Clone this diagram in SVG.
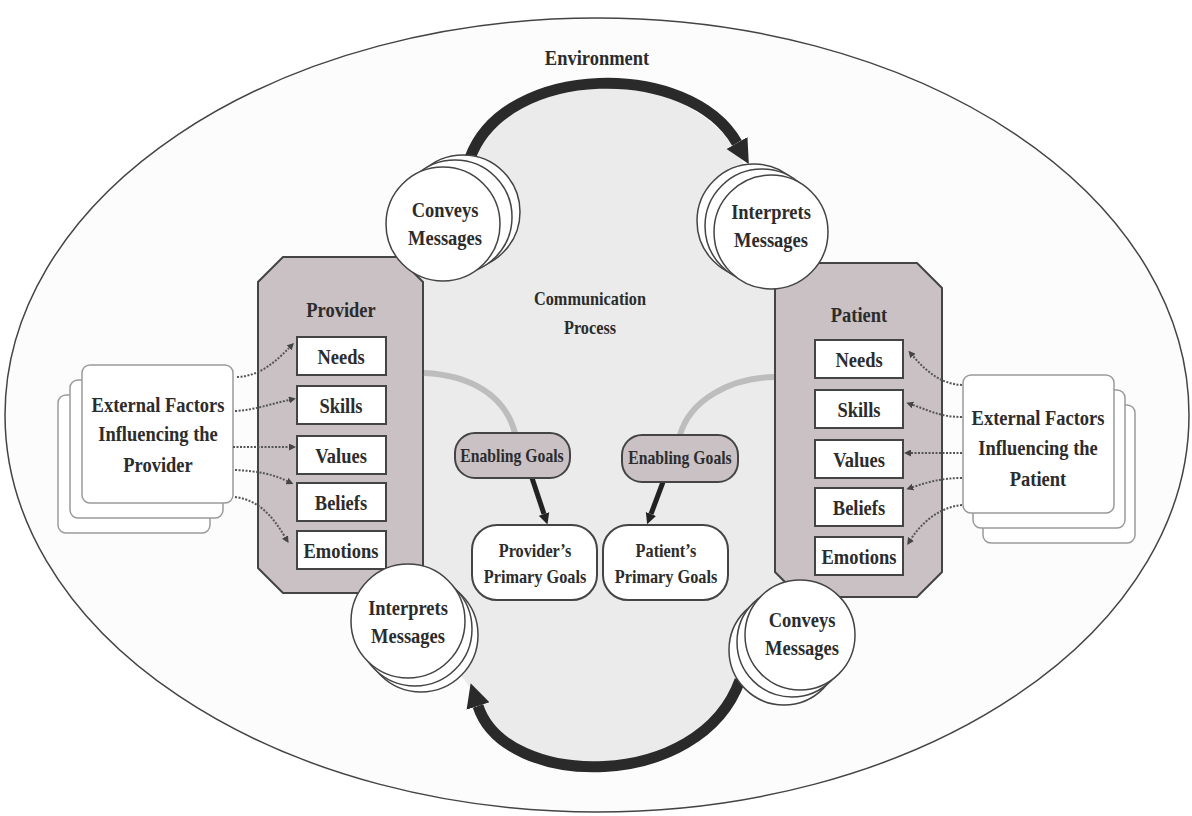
<svg xmlns="http://www.w3.org/2000/svg" width="1192" height="816" viewBox="0 0 1192 816">
<style>
.t{font-family:"Liberation Serif","Times New Roman",serif;font-weight:bold;fill:#2c2c2c;text-anchor:middle}
.big{font-size:21px}
.mid{font-size:18.5px}
.cir{fill:#fff;stroke:#444;stroke-width:1.5}
.oct{fill:#c9c1c3;stroke:#444;stroke-width:2}
.box{fill:#fff;stroke:#444;stroke-width:2}
.card{fill:#fff;stroke:#9a9a9a;stroke-width:1.5}
.dot{fill:none;stroke:#555;stroke-width:2;stroke-dasharray:2 1.5;marker-end:url(#sm)}
.arc{fill:none;stroke:#2a2a2a;stroke-width:11;marker-end:url(#big)}
.ga{fill:none;stroke:#222;stroke-width:5;marker-end:url(#med)}
.gc{fill:none;stroke:#bdbdbd;stroke-width:6}
</style>
<defs>
<marker id="big" viewBox="0 0 10 10" refX="0" refY="5" markerWidth="24" markerHeight="26" markerUnits="userSpaceOnUse" orient="auto"><path d="M0,0 L10,5 L0,10 z" fill="#2a2a2a"/></marker>
<marker id="med" viewBox="0 0 10 10" refX="0" refY="5" markerWidth="11" markerHeight="12" markerUnits="userSpaceOnUse" orient="auto"><path d="M0,0 L10,5 L0,10 z" fill="#222"/></marker>
<marker id="sm" viewBox="0 0 10 10" refX="0" refY="5" markerWidth="7" markerHeight="7" markerUnits="userSpaceOnUse" orient="auto"><path d="M0,0 L10,5 L0,10 z" fill="#444"/></marker>
</defs>
<rect width="1192" height="816" fill="#fff"/>
<g id="environment">
<ellipse cx="597" cy="415" rx="592" ry="397" fill="#fcfcfc" stroke="#444" stroke-width="1.5"/>
<text class="t big" transform="translate(597,65) scale(.88,1)">Environment</text>
</g>
<g id="process-area">
<path d="M470,158 C505,62 690,60 742,160 L790,300 L790,600 L740,680 C700,792 505,790 470,688 L410,600 L410,300 Z" fill="#ebebeb"/>
<text class="t mid" transform="translate(590,305) scale(.88,1)">Communication</text>
<text class="t mid" transform="translate(590,334) scale(.88,1)">Process</text>
</g>
<g id="ext-provider">
<rect class="card" x="58" y="395" width="152" height="138" rx="8"/>
<rect class="card" x="70" y="380" width="153" height="138" rx="8"/>
<rect class="card" x="82" y="365" width="151" height="138" rx="8"/>
<text class="t big" transform="translate(158,412) scale(.88,1)">External Factors</text>
<text class="t big" transform="translate(158,441) scale(.88,1)">Influencing the</text>
<text class="t big" transform="translate(158,472) scale(.88,1)">Provider</text>
</g>
<g id="ext-patient">
<rect class="card" x="983" y="405" width="152" height="138" rx="8"/>
<rect class="card" x="973" y="390" width="152" height="138" rx="8"/>
<rect class="card" x="963" y="375" width="151" height="138" rx="8"/>
<text class="t big" transform="translate(1038,425) scale(.88,1)">External Factors</text>
<text class="t big" transform="translate(1038,455) scale(.88,1)">Influencing the</text>
<text class="t big" transform="translate(1038,486) scale(.88,1)">Patient</text>
</g>
<g id="provider">
<polygon class="oct" points="283,257 398,257 423,282 423,568 398,593 283,593 258,568 258,282"/>
<text class="t big" transform="translate(341,317) scale(.88,1)">Provider</text>
<rect class="box" x="297" y="337" width="89" height="38"/>
<text class="t big" transform="translate(341,364) scale(.88,1)">Needs</text>
<rect class="box" x="297" y="386" width="89" height="38"/>
<text class="t big" transform="translate(341,413) scale(.88,1)">Skills</text>
<rect class="box" x="297" y="436" width="89" height="38"/>
<text class="t big" transform="translate(341,463) scale(.88,1)">Values</text>
<rect class="box" x="297" y="483" width="89" height="38"/>
<text class="t big" transform="translate(341,510) scale(.88,1)">Beliefs</text>
<rect class="box" x="297" y="531" width="89" height="38"/>
<text class="t big" transform="translate(341,558) scale(.88,1)">Emotions</text>
</g>
<g id="patient">
<polygon class="oct" points="800,263 917,263 942,288 942,572 917,597 800,597 775,572 775,288"/>
<text class="t big" transform="translate(859,322) scale(.88,1)">Patient</text>
<rect class="box" x="815" y="340" width="88" height="38"/>
<text class="t big" transform="translate(859,367) scale(.88,1)">Needs</text>
<rect class="box" x="815" y="390" width="88" height="38"/>
<text class="t big" transform="translate(859,417) scale(.88,1)">Skills</text>
<rect class="box" x="815" y="440" width="88" height="38"/>
<text class="t big" transform="translate(859,467) scale(.88,1)">Values</text>
<rect class="box" x="815" y="488" width="88" height="38"/>
<text class="t big" transform="translate(859,515) scale(.88,1)">Beliefs</text>
<rect class="box" x="815" y="537" width="88" height="38"/>
<text class="t big" transform="translate(859,564) scale(.88,1)">Emotions</text>
</g>
<g id="connectors">
<path class="arc" d="M470,158 C505,62 690,60 737,143"/>
<path class="arc" d="M740,680 C700,792 505,790 478,706"/>
<path class="gc" d="M424,373 C470,375 505,395 515,433"/>
<path class="gc" d="M774,377 C730,378 690,400 680,435"/>
<path class="ga" d="M532,478 L544,514"/>
<path class="ga" d="M663,482 L651,514"/>
<path class="dot" d="M237,377 C260,376 275,362 289,348"/>
<path class="dot" d="M235,411 C255,410 270,404 289,400"/>
<path class="dot" d="M233,447 L289,447"/>
<path class="dot" d="M235,470 C258,471 272,474 287,481"/>
<path class="dot" d="M235,497 C258,500 272,515 285,537"/>
<path class="dot" d="M962,385 C940,384 925,370 913,356"/>
<path class="dot" d="M962,417 C940,417 928,410 913,405"/>
<path class="dot" d="M962,453 L911,453"/>
<path class="dot" d="M962,478 C942,478 928,482 913,487"/>
<path class="dot" d="M962,505 C940,507 922,522 911,539"/>
</g>
<g id="enabling-provider">
<rect x="455" y="433" width="115" height="45" rx="20" fill="#c9c1c3" stroke="#444" stroke-width="2"/>
<text class="t mid" transform="translate(512,462) scale(.85,1)">Enabling Goals</text>
</g>
<g id="enabling-patient">
<rect x="622" y="435" width="116" height="47" rx="20" fill="#c9c1c3" stroke="#444" stroke-width="2"/>
<text class="t mid" transform="translate(680,464) scale(.85,1)">Enabling Goals</text>
</g>
<g id="provider-goals">
<rect class="box" x="472" y="525" width="125" height="75" rx="25"/>
<text class="t mid" transform="translate(535,557) scale(.88,1)">Provider’s</text>
<text class="t mid" transform="translate(535,583) scale(.88,1)">Primary Goals</text>
</g>
<g id="patient-goals">
<rect class="box" x="603" y="525" width="125" height="75" rx="25"/>
<text class="t mid" transform="translate(666,557) scale(.88,1)">Patient’s</text>
<text class="t mid" transform="translate(666,583) scale(.88,1)">Primary Goals</text>
</g>
<g id="provider-conveys">
<circle class="cir" cx="463" cy="212" r="57"/>
<circle class="cir" cx="455" cy="217" r="57"/>
<circle class="cir" cx="443" cy="224" r="57"/>
<text class="t big" transform="translate(445,217) scale(.88,1)">Conveys</text>
<text class="t big" transform="translate(445,245) scale(.88,1)">Messages</text>
</g>
<g id="patient-interprets">
<circle class="cir" cx="754" cy="221" r="57"/>
<circle class="cir" cx="762" cy="226" r="57"/>
<circle class="cir" cx="771" cy="232" r="57"/>
<text class="t big" transform="translate(771,219) scale(.88,1)">Interprets</text>
<text class="t big" transform="translate(771,247) scale(.88,1)">Messages</text>
</g>
<g id="provider-interprets">
<circle class="cir" cx="421" cy="635" r="57"/>
<circle class="cir" cx="415" cy="629" r="57"/>
<circle class="cir" cx="408" cy="621" r="57"/>
<text class="t big" transform="translate(408,615) scale(.88,1)">Interprets</text>
<text class="t big" transform="translate(408,643) scale(.88,1)">Messages</text>
</g>
<g id="patient-conveys">
<circle class="cir" cx="784" cy="650" r="55"/>
<circle class="cir" cx="792" cy="642" r="55"/>
<circle class="cir" cx="800" cy="635" r="55"/>
<text class="t big" transform="translate(802,627) scale(.88,1)">Conveys</text>
<text class="t big" transform="translate(802,655) scale(.88,1)">Messages</text>
</g>
</svg>
